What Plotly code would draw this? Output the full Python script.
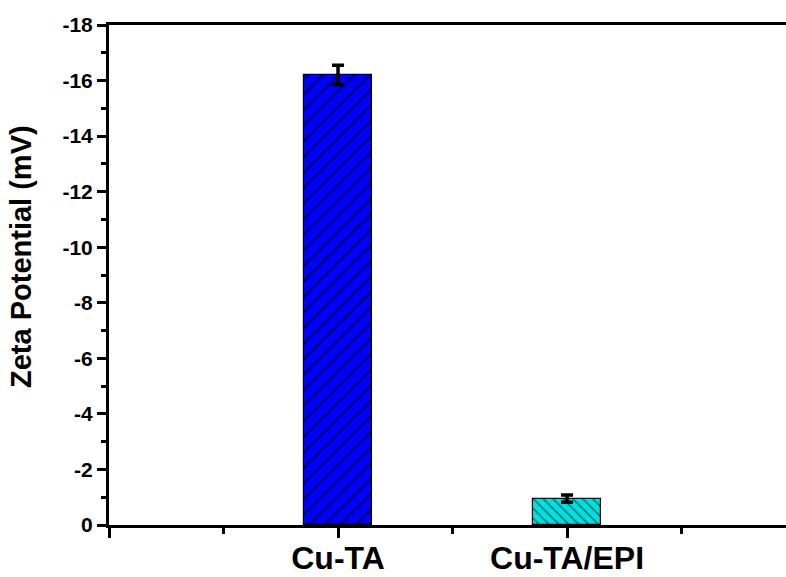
import plotly.graph_objects as go

# Zeta potential measurements (mV) with standard deviations
categories = ["Cu-TA", "Cu-TA/EPI"]
zeta_mv = [-16.2, -0.95]
zeta_err = [0.35, 0.13]
bar_colors = ["#0000FF", "#00E0E0"]
hatch_shapes = ["/", "\\"]
hatch_sizes = [11, 7]

y_tick_vals = list(range(0, -19, -2))
y_tick_text = [str(v) for v in y_tick_vals]

positions = [i + 1 for i in range(len(categories))]
font_family = "Arial, Liberation Sans, sans-serif"

fig = go.Figure()
for pos, cat, val, err, col, shp, sz in zip(positions, categories, zeta_mv, zeta_err,
                                             bar_colors, hatch_shapes, hatch_sizes):
    fig.add_trace(go.Bar(
        x=[pos], y=[val], name=cat, width=0.3,
        marker=dict(
            color=col,
            line=dict(color="black", width=1.2),
            pattern=dict(shape=shp, fgcolor="black", bgcolor=col,
                         size=sz, solidity=0.22),
        ),
        error_y=dict(type="data", array=[err], visible=True,
                     color="black", thickness=3.5, width=6),
        showlegend=False,
    ))

fig.update_layout(
    width=786, height=577,
    margin=dict(l=109, r=0, t=25, b=52, autoexpand=False),
    paper_bgcolor="white", plot_bgcolor="white",
    font=dict(family=font_family, color="black"),
    bargap=0,
)

fig.update_xaxes(
    range=[0, 2.956],
    automargin=False,
    tickvals=[0] + positions,
    ticktext=[""] + categories,
    tickfont=dict(size=32, weight="bold"),
    ticklabelstandoff=-7,
    ticks="outside", ticklen=10, tickwidth=3, tickcolor="black",
    minor=dict(dtick=0.5, tick0=0, ticks="outside", ticklen=6,
               tickwidth=3, tickcolor="black", showgrid=False),
    showline=True, linewidth=3, linecolor="black", mirror=True,
    showgrid=False, zeroline=False,
)

fig.update_yaxes(
    range=[0, -18],
    automargin=False,
    tickvals=y_tick_vals,
    ticktext=y_tick_text,
    tickfont=dict(size=21, weight="bold"),
    ticks="outside", ticklen=9, tickwidth=3, tickcolor="black",
    minor=dict(dtick=1, tick0=0, ticks="outside", ticklen=5,
               tickwidth=3, tickcolor="black", showgrid=False),
    showline=True, linewidth=3, linecolor="black",
    showgrid=False, zeroline=False,
)

fig.add_annotation(
    text="Zeta Potential (mV)", textangle=-90,
    xref="paper", yref="paper", x=0, y=0.536,
    xanchor="center", yanchor="middle", xshift=-88,
    showarrow=False,
    font=dict(size=29, weight="bold", family=font_family, color="black"),
)

fig.write_html("out.html")
